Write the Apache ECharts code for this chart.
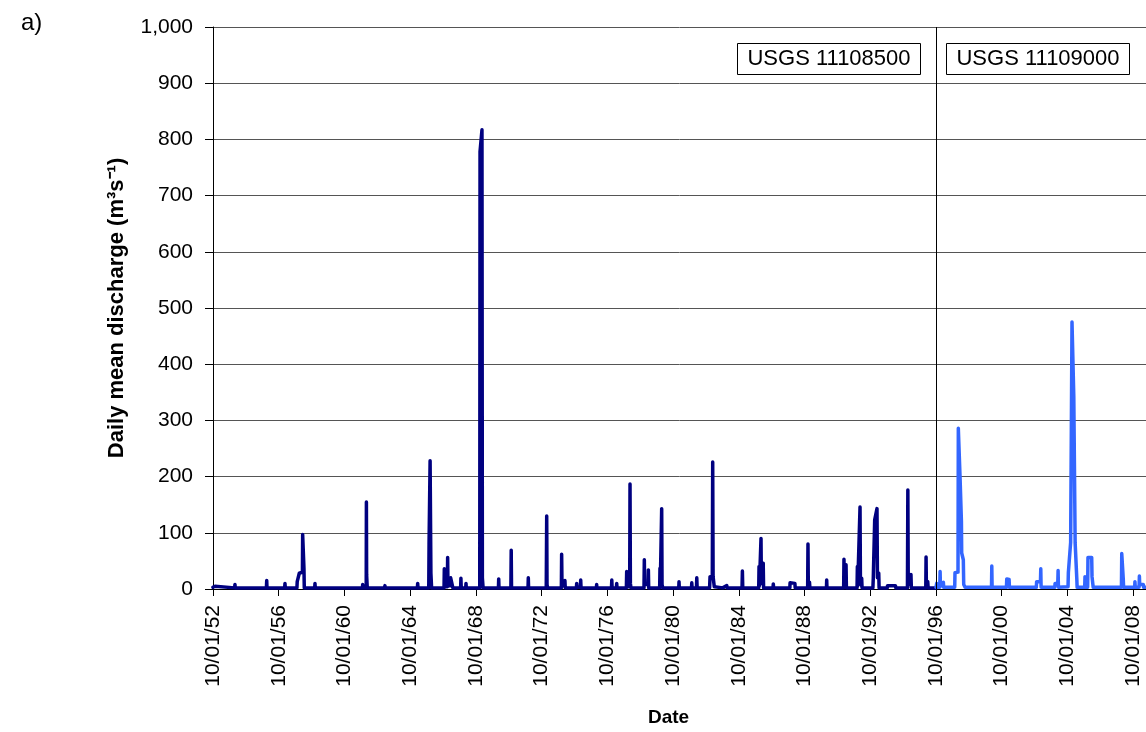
<!DOCTYPE html>
<html>
<head>
<meta charset="utf-8">
<script src="https://cdn.jsdelivr.net/npm/echarts@6/dist/echarts.min.js"></script>
<style>
  html, body { margin: 0; padding: 0; background: #fff; }
  #chart { width: 1146px; height: 732px; }
</style>
</head>
<body>
<div id="chart"></div>
<script>
// USGS 11108500 (dark) — dates and daily mean discharge
const dates1 = [
  '1952-10-01', '1952-11-10', '1952-11-15', '1952-11-22',
  '1954-01-25', '1954-02-01', '1954-02-08',
  '1954-12-25', '1955-01-01', '1955-01-08',
  '1955-04-14', '1955-04-20', '1955-04-26',
  '1956-01-01', '1956-01-08', '1956-01-14',
  '1957-02-10', '1957-02-17', '1957-02-24',
  '1957-11-10', '1957-11-16', '1957-12-25', '1958-01-01', '1958-03-12', '1958-03-17', '1958-04-15', '1958-04-22',
  '1958-12-10', '1958-12-16', '1958-12-22',
  '1961-11-05', '1961-11-10', '1961-11-16',
  '1962-01-26', '1962-01-28', '1962-02-01', '1962-02-06', '1962-02-20',
  '1963-03-14', '1963-03-20', '1963-03-26',
  '1964-01-05', '1964-01-11', '1964-01-17',
  '1964-03-20', '1964-03-27', '1964-04-03',
  '1965-03-10', '1965-03-17', '1965-03-24',
  '1965-11-18', '1965-11-25', '1965-12-18', '1966-01-05', '1966-01-20',
  '1966-10-24', '1966-10-30', '1966-11-06', '1967-01-05', '1967-01-12', '1967-01-19', '1967-03-14', '1967-03-20', '1967-05-01', '1967-05-08',
  '1967-10-28', '1967-11-03', '1967-11-10',
  '1968-02-18', '1968-02-24', '1968-03-01',
  '1968-12-26', '1969-01-01', '1969-02-13', '1969-02-22', '1969-03-10',
  '1970-02-14', '1970-02-20', '1970-02-26',
  '1970-11-18', '1970-11-25', '1970-12-02',
  '1971-12-04', '1971-12-10', '1971-12-16',
  '1973-01-12', '1973-01-15', '1973-01-22', '1973-01-29', '1973-02-10',
  '1973-12-14', '1973-12-20', '1973-12-28', '1974-02-25', '1974-03-03', '1974-03-10',
  '1974-11-14', '1974-11-20', '1974-11-27', '1975-02-10', '1975-02-17', '1975-02-24',
  '1976-02-01', '1976-02-06', '1976-02-12',
  '1977-01-01', '1977-01-08', '1977-01-15', '1977-04-20', '1977-04-27', '1977-05-04',
  '1977-11-28', '1977-12-05', '1977-12-12', '1978-02-10', '1978-02-17', '1978-02-25', '1978-03-10',
  '1978-12-25', '1979-01-01', '1979-01-08', '1979-03-25', '1979-04-01', '1979-04-08',
  '1979-12-08', '1979-12-10', '1979-12-15', '1979-12-22', '1980-01-15', '1980-01-22', '1980-01-30', '1980-02-15',
  '1981-02-05', '1981-02-10', '1981-02-16',
  '1981-11-15', '1981-11-21', '1981-11-28',
  '1982-03-05', '1982-03-12', '1982-03-20',
  '1982-12-22', '1982-12-25', '1983-01-01', '1983-02-20', '1983-03-01', '1983-03-10', '1983-03-28', '1983-04-05',
  '1983-10-10', '1983-10-16', '1984-01-08', '1984-01-15',
  '1984-12-12', '1984-12-20', '1984-12-28',
  '1985-12-18', '1985-12-20', '1985-12-25', '1986-01-02', '1986-02-01', '1986-02-07', '1986-02-15', '1986-03-22', '1986-03-28', '1986-04-05',
  '1986-11-01', '1986-11-07', '1986-11-14',
  '1987-11-10', '1987-11-15', '1988-03-01', '1988-03-08',
  '1988-12-10', '1988-12-17', '1988-12-24', '1989-01-14', '1989-01-20', '1989-01-28',
  '1990-02-01', '1990-02-06', '1990-02-12',
  '1991-02-18', '1991-02-25', '1991-03-05', '1991-04-05', '1991-04-12', '1991-04-20',
  '1991-12-13', '1991-12-15', '1991-12-20', '1991-12-28', '1992-02-10', '1992-02-17', '1992-02-26', '1992-03-18', '1992-03-25', '1992-04-02',
  '1992-11-29', '1992-12-01', '1992-12-08', '1993-01-08', '1993-02-28', '1993-03-10', '1993-04-08', '1993-04-16',
  '1993-10-15', '1993-10-20', '1994-04-15', '1994-04-22',
  '1995-01-06', '1995-01-08', '1995-01-15', '1995-01-24', '1995-03-20', '1995-03-25', '1995-04-03',
  '1996-02-18', '1996-02-24', '1996-03-02', '1996-03-25', '1996-04-01', '1996-04-10', '1996-09-30'
];
const flow1 = [
  3, 3, 5, 2,
  2, 8, 2,
  2, 5, 2,
  2, 5, 2,
  2, 15, 2,
  2, 10, 2,
  2, 13, 13, 28, 30, 97, 37, 2,
  2, 10, 2,
  2, 8, 2,
  2, 8, 155, 25, 2,
  2, 6, 2,
  2, 5, 2,
  2, 5, 2,
  2, 10, 2,
  2, 81, 228, 28, 2,
  2, 36, 4, 4, 56, 6, 6, 20, 18, 2,
  2, 19, 2,
  2, 10, 2,
  2, 778, 817, 20, 2,
  2, 18, 2,
  2, 69, 2,
  2, 20, 2,
  2, 5, 130, 8, 2,
  2, 62, 6, 6, 15, 2,
  2, 10, 3, 3, 16, 2,
  2, 8, 2,
  2, 16, 2, 2, 10, 2,
  2, 31, 4, 4, 187, 10, 2,
  2, 52, 8, 8, 34, 2,
  2, 4, 37, 6, 6, 143, 8, 2,
  2, 13, 2,
  2, 11, 2,
  2, 20, 2,
  2, 4, 22, 22, 226, 22, 22, 4,
  2, 5, 6, 2,
  2, 32, 2,
  2, 4, 40, 6, 6, 90, 10, 10, 46, 2,
  2, 9, 2,
  2, 11, 10, 2,
  2, 80, 8, 8, 12, 2,
  2, 16, 2,
  2, 53, 6, 6, 43, 2,
  2, 4, 40, 6, 6, 146, 10, 6, 19, 2,
  2, 4, 20, 123, 143, 20, 28, 2,
  2, 6, 6, 2,
  2, 4, 176, 8, 8, 26, 2,
  2, 57, 6, 6, 13, 2, 2
];

// USGS 11109000 (blue)
const dates2 = [
  '1996-10-01', '1996-10-12', '1996-10-18', '1996-10-25',
  '1996-12-25', '1997-01-01', '1997-01-08', '1997-03-10', '1997-03-15', '1997-03-22',
  '1997-11-22', '1997-11-28', '1998-02-03', '1998-02-10', '1998-03-20', '1998-04-20', '1998-04-26', '1998-06-01', '1998-06-10', '1998-07-10',
  '1999-03-20', '1999-03-25', '1999-03-30',
  '2000-02-18', '2000-02-24', '2000-03-02',
  '2001-01-15', '2001-01-22', '2001-03-15', '2001-03-22',
  '2002-11-10', '2002-11-17', '2003-02-10', '2003-02-17', '2003-02-24',
  '2003-12-25', '2004-01-01', '2004-03-01', '2004-03-08', '2004-03-15',
  '2004-10-15', '2004-10-22', '2004-12-05', '2004-12-12', '2005-01-11', '2005-02-20', '2005-03-22', '2005-04-28', '2005-05-05',
  '2005-10-20', '2005-10-27', '2005-11-03', '2005-12-25', '2006-01-01', '2006-03-25', '2006-04-01', '2006-04-20', '2006-04-27',
  '2008-01-15', '2008-01-22', '2008-02-25', '2008-03-03',
  '2008-11-04', '2008-11-10', '2008-11-17', '2009-02-10', '2009-02-17', '2009-02-24', '2009-05-15', '2009-05-22', '2009-09-30'
];
const flow2 = [
  3, 3, 10, 3,
  3, 31, 6, 6, 12, 3,
  3, 29, 30, 286, 200, 120, 64, 52, 8, 3,
  3, 5, 3,
  3, 41, 3,
  3, 18, 17, 3,
  3, 13, 13, 36, 3,
  3, 10, 10, 33, 3,
  4, 29, 29, 83, 475, 342, 82, 18, 3,
  3, 22, 3, 3, 56, 56, 22, 22, 3,
  3, 63, 17, 3,
  3, 13, 3, 3, 23, 8, 8, 3, 3
];

const stationNames = ['USGS 11108500', 'USGS 11109000'];
const stationSwitch = '1996-10-01';

// x axis runs in days since 10/01/52 so 4-year ticks land on Oct 1
const ORIGIN = Date.UTC(1952, 9, 1);
const DAY = 86400000;
const FOUR_YEARS = 1461;
function toDay(d) {
  return Math.round((Date.parse(d + 'T00:00:00Z') - ORIGIN) / DAY);
}
function fmtDate(v) {
  const d = new Date(ORIGIN + v * DAY);
  const mm = String(d.getUTCMonth() + 1).padStart(2, '0');
  const dd = String(d.getUTCDate()).padStart(2, '0');
  const yy = String(d.getUTCFullYear() % 100).padStart(2, '0');
  return mm + '/' + dd + '/' + yy;
}
function fmtNum(v) {
  return String(v).replace(/\B(?=(\d{3})+(?!\d))/g, ',');
}

const FONT = '"Liberation Sans", Arial, sans-serif';
const chart = echarts.init(document.getElementById('chart'));

const option = {
  animation: false,
  backgroundColor: '#fff',
  textStyle: { fontFamily: FONT },
  grid: { left: 213, right: 0, top: 27, bottom: 143 },
  xAxis: {
    type: 'value',
    min: 0,
    max: 20740,
    interval: FOUR_YEARS,
    name: 'Date',
    nameLocation: 'middle',
    nameGap: 119,
    nameTextStyle: { color: '#000', fontSize: 19, fontWeight: 'bold', fontFamily: FONT, padding: [0, 22, 0, 0] },
    axisLine: { lineStyle: { color: '#000', width: 1 } },
    axisTick: { length: 7, lineStyle: { color: '#000' } },
    axisLabel: {
      rotate: 90,
      margin: 16,
      fontSize: 21,
      color: '#000',
      fontFamily: FONT,
      showMaxLabel: false,
      formatter: fmtDate
    },
    splitLine: { show: false }
  },
  yAxis: {
    type: 'value',
    min: 0,
    max: 1000,
    interval: 100,
    name: 'Daily mean discharge (m³s⁻¹)',
    nameLocation: 'middle',
    nameGap: 85,
    nameTextStyle: { color: '#000', fontSize: 22, fontWeight: 'bold', fontFamily: FONT },
    axisLine: { show: true, lineStyle: { color: '#000', width: 1 } },
    axisTick: { show: true, length: 8, lineStyle: { color: '#000' } },
    axisLabel: { margin: 20, fontSize: 21, color: '#000', fontFamily: FONT, formatter: fmtNum },
    splitLine: { lineStyle: { color: '#555', width: 1 } }
  },
  series: [
    {
      name: stationNames[0],
      type: 'line',
      showSymbol: false,
      clip: true,
      lineStyle: { color: '#000080', width: 3.5, join: 'round', cap: 'round' },
      itemStyle: { color: '#000080' },
      data: dates1.map((d, i) => [toDay(d), flow1[i]]),
      markLine: {
        silent: true,
        symbol: 'none',
        label: { show: false },
        lineStyle: { color: '#000', width: 1, type: 'solid' },
        data: [{ xAxis: toDay(stationSwitch) }]
      },
      z: 3
    },
    {
      name: stationNames[1],
      type: 'line',
      showSymbol: false,
      clip: true,
      lineStyle: { color: '#3366ff', width: 3.5, join: 'round', cap: 'round' },
      itemStyle: { color: '#3366ff' },
      data: dates2.map((d, i) => [toDay(d), flow2[i]]),
      z: 3
    }
  ],
  graphic: [
    { type: 'text', x: 21, y: 11, style: { text: 'a)', font: '24px ' + FONT, fill: '#000' } },
    { type: 'rect', shape: { x: 737.5, y: 43.5, width: 183, height: 31 }, style: { fill: '#fff', stroke: '#000', lineWidth: 1 }, z: 10 },
    { type: 'text', x: 829, y: 59, style: { text: stationNames[0], font: '22px ' + FONT, fill: '#000', align: 'center', verticalAlign: 'middle' }, z: 11 },
    { type: 'rect', shape: { x: 946.5, y: 43.5, width: 183, height: 31 }, style: { fill: '#fff', stroke: '#000', lineWidth: 1 }, z: 10 },
    { type: 'text', x: 1038, y: 59, style: { text: stationNames[1], font: '22px ' + FONT, fill: '#000', align: 'center', verticalAlign: 'middle' }, z: 11 }
  ]
};

chart.setOption(option);
</script>
</body>
</html>
